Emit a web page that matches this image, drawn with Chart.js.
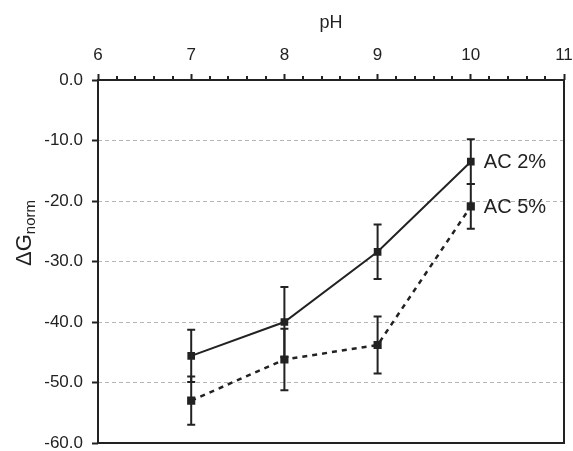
<!DOCTYPE html>
<html>
<head>
<meta charset="utf-8">
<script src="https://cdn.jsdelivr.net/npm/chart.js@4/dist/chart.umd.min.js"></script>
<style>
  html, body { margin: 0; padding: 0; background: #fff; }
  #wrap { width: 573px; height: 451px; }
</style>
</head>
<body>
<div id="wrap"><canvas id="chart" width="573" height="451"></canvas></div>
<script>
// --- dados ---
const phValues = [7, 8, 9, 10];
const seriesNames = ["AC 2%", "AC 5%"];
const ac2 = [-45.6, -40.0, -28.4, -13.5];
const ac2Err = [4.3, 5.8, 4.5, 3.7];
const ac5 = [-53.0, -46.2, -43.8, -20.9];
const ac5Err = [4.0, 5.1, 4.7, 3.7];
const xTicks = [6, 7, 8, 9, 10, 11];
const yTicks = [0, -10, -20, -30, -40, -50, -60];

const FONT = "'Liberation Sans', Arial, sans-serif";
const INK = "#222";

// barras de erro (desenhadas antes dos pontos)
const errorBars = {
  id: "errorBars",
  beforeDatasetsDraw(chart) {
    const { ctx, scales: { x, y } } = chart;
    const errs = [ac2Err, ac5Err];
    ctx.save();
    ctx.strokeStyle = INK;
    ctx.lineWidth = 2;
    chart.data.datasets.forEach((ds, i) => {
      ds.data.forEach((p, j) => {
        const px = x.getPixelForValue(p.x);
        const top = y.getPixelForValue(p.y + errs[i][j]);
        const bot = y.getPixelForValue(p.y - errs[i][j]);
        ctx.beginPath();
        ctx.moveTo(px, top); ctx.lineTo(px, bot);
        ctx.moveTo(px - 4, top); ctx.lineTo(px + 4, top);
        ctx.moveTo(px - 4, bot); ctx.lineTo(px + 4, bot);
        ctx.stroke();
      });
    });
    ctx.restore();
  }
};

// moldura, ticks menores, r칩tulos das s칠ries e t칤tulo do eixo y
const decor = {
  id: "decor",
  afterDraw(chart) {
    const { ctx, chartArea: a, scales: { x, y } } = chart;
    ctx.save();
    ctx.strokeStyle = INK;
    ctx.lineWidth = 2;
    ctx.strokeRect(a.left, a.top, a.right - a.left, a.bottom - a.top);

    // ticks menores a cada 0.2
    ctx.beginPath();
    for (let v = xTicks[0]; v < xTicks[xTicks.length - 1]; v += 0.2) {
      if (Math.abs(v - Math.round(v)) < 0.01) continue;
      const px = Math.round(x.getPixelForValue(v));
      ctx.moveTo(px, a.top); ctx.lineTo(px, a.top - 4);
    }
    ctx.stroke();

    // r칩tulos ao lado do 칰ltimo ponto
    ctx.fillStyle = INK;
    ctx.font = "20px " + FONT;
    ctx.textBaseline = "middle";
    ctx.textAlign = "left";
    chart.data.datasets.forEach((ds) => {
      const last = ds.data[ds.data.length - 1];
      ctx.fillText(ds.label, x.getPixelForValue(last.x) + 13, y.getPixelForValue(last.y) + 1);
    });

    // t칤tulo do eixo y: 풊G com subscrito "norm"
    ctx.translate(24, 233);
    ctx.rotate(-Math.PI / 2);
    ctx.textBaseline = "alphabetic";
    const main = "\u0394G";
    ctx.font = "22px " + FONT;
    const w1 = ctx.measureText(main).width;
    ctx.font = "15px " + FONT;
    const w2 = ctx.measureText("norm").width;
    const start = -(w1 + w2) / 2;
    ctx.font = "22px " + FONT;
    ctx.fillText(main, start, 7);
    ctx.font = "15px " + FONT;
    ctx.fillText("norm", start + w1, 11);
    ctx.restore();
  }
};

const toPoints = (vals) => phValues.map((ph, i) => ({ x: ph, y: vals[i] }));

new Chart(document.getElementById("chart"), {
  type: "line",
  data: {
    datasets: [
      {
        label: seriesNames[0],
        data: toPoints(ac2),
        borderColor: INK,
        backgroundColor: INK,
        borderWidth: 2,
        pointStyle: "rect",
        pointRadius: 4,
        tension: 0
      },
      {
        label: seriesNames[1],
        data: toPoints(ac5),
        borderColor: INK,
        backgroundColor: INK,
        borderWidth: 2.5,
        borderDash: [5, 5],
        pointStyle: "rect",
        pointRadius: 4,
        tension: 0
      }
    ]
  },
  options: {
    responsive: false,
    animation: false,
    layout: { padding: { left: 0, right: 9, top: 0, bottom: 8 } },
    plugins: { legend: { display: false }, tooltip: { enabled: false } },
    scales: {
      x: {
        type: "linear",
        position: "top",
        min: xTicks[0],
        max: xTicks[xTicks.length - 1],
        afterBuildTicks: (s) => { s.ticks = xTicks.map(v => ({ value: v })); },
        afterFit: (s) => { s.height = 80; s.paddingLeft = 0; s.paddingRight = 0; },
        ticks: { color: INK, font: { family: FONT, size: 17 }, padding: 8 },
        grid: { drawOnChartArea: false, drawTicks: true, tickLength: 6, tickColor: INK, tickWidth: 2 },
        border: { display: false },
        title: { display: true, text: "pH", color: INK, font: { family: FONT, size: 18 }, padding: { top: 12, bottom: 0 } }
      },
      y: {
        type: "linear",
        min: yTicks[yTicks.length - 1],
        max: yTicks[0],
        afterBuildTicks: (s) => { s.ticks = yTicks.map(v => ({ value: v })); },
        afterFit: (s) => { s.width = 98; s.paddingTop = 0; s.paddingBottom = 0; },
        ticks: {
          color: INK,
          font: { family: FONT, size: 17 },
          padding: 9,
          callback: (v) => Number(v).toFixed(1)
        },
        grid: {
          color: (c) => (c.tick && (c.tick.value === 0 || c.tick.value === -60)) ? "rgba(0,0,0,0)" : "#b5b5b5",
          lineWidth: 1,
          drawTicks: true,
          tickLength: 6,
          tickColor: INK,
          tickWidth: 2,
          tickBorderDash: []
        },
        border: { display: false, dash: [4, 3] }
      }
    }
  },
  plugins: [errorBars, decor]
});
</script>
</body>
</html>
